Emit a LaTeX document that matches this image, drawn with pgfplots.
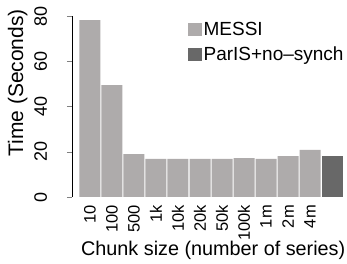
\documentclass[border=0pt]{standalone}
\usepackage{fontspec}
\setmainfont{Liberation Sans}
\usepackage{pgfplots}
\pgfplotsset{compat=1.18}
\definecolor{messi}{RGB}{174,171,171}
\definecolor{paris}{RGB}{104,104,104}
\begin{document}
\begin{tikzpicture}
\useasboundingbox (-72pt,-67pt) rectangle (275pt,197pt);
\begin{axis}[
  at={(0pt,0pt)}, anchor=south west,
  scale only axis, width=271pt, height=181pt,
  xmin=-0.818, xmax=11.5, ymin=0, ymax=80,
  ybar,
  axis y line*=left, axis x line*=bottom,
  x axis line style={draw=none},
  xtick={0,1,2,3,4,5,6,7,8,9,10,11},
  xticklabels={10,100,500,1k,10k,20k,50k,100k,1m,2m,4m,{}},
  major x tick style={draw=none},
  ytick={0,20,40,60,80},
  tick align=outside, major tick length=5pt,
  /pgf/number format/assume math mode=true,
  yticklabel style={rotate=90, anchor=base, inner sep=0pt, font=\fontsize{18}{20}\selectfont},
  xticklabel style={rotate=90, anchor=east, inner sep=0pt, font=\fontsize{16.5}{18}\selectfont},
  yticklabel shift=20pt,
  xticklabel shift=3pt,
  xlabel={Chunk size (number of series)},
  xlabel style={at={(axis cs:5.6,0)}, anchor=base, yshift=-58pt, font=\fontsize{19.8}{22}\selectfont},
  ylabel={Time (Seconds)},
  ylabel style={at={(axis cs:-3.045,50.4)}, anchor=base, font=\fontsize{21}{24}\selectfont},
  legend style={draw=none, fill=none, at={(axis cs:4.45,78)}, anchor=north west,
    inner sep=0pt, row sep=7pt, font=\fontsize{19}{21}\selectfont,
    nodes={inner sep=1.5pt}},
  legend cell align=left,
  legend image code/.code={\fill[#1] (0pt,-6.5pt) rectangle (14pt,6.5pt);},
]
\addplot[fill=messi, draw=none, bar shift=0pt, bar width=21pt] coordinates {
  (0,78.2) (1,49.5) (2,19.0) (3,16.8) (4,16.8) (5,16.8) (6,16.8) (7,17.2) (8,16.8) (9,18.1) (10,20.8)
};
\addlegendentry{MESSI}
\addplot[fill=paris, draw=none, bar shift=0pt, bar width=21pt] coordinates {(11,18.1)};
\addlegendentry{ParIS+no\textendash synch}
\end{axis}
\end{tikzpicture}
\end{document}
